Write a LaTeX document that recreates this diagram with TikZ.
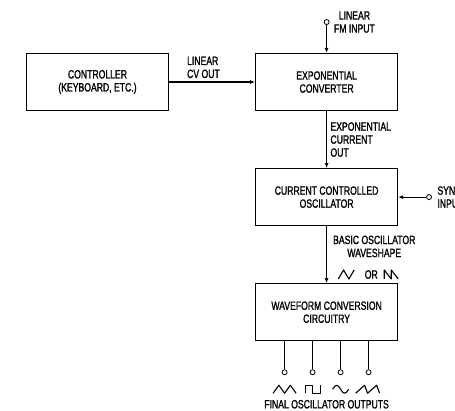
\documentclass[tikz,border=0pt]{standalone}
\usepackage{fontspec}
\setmainfont{Liberation Sans}[FakeStretch=0.72,FakeBold=1.2]
\usetikzlibrary{positioning,arrows.meta}
\newcommand{\diagfont}{\fontsize{12}{13}\selectfont}

\begin{document}
\begin{tikzpicture}[
        block/.style={
            rectangle, draw = black, line width = 1.1pt, minimum width = 142pt, minimum height = 57pt, align = center, font = \diagfont
        },
        sig/.style={
            font = \diagfont
        },
        jack/.style={
            circle, draw = black, line width = 0.8pt, fill = white, inner sep = 0pt, minimum size = 5pt
        },
        wave/.style={
            line width = 1.1pt, line join = round
        },
        every edge/.style={draw, line width = 1.1pt},
        >={Latex[length=5pt,width=4pt]},
    ]
        \useasboundingbox (0,0) rectangle (455pt,-411pt);

        \node (controller) [block] at (97.5pt,-82pt) {CONTROLLER\\(KEYBOARD, ETC.)};
        \node (expConverter) [block,right=86pt of controller] {EXPONENTIAL\\CONVERTER};
        \path (controller) edge[->] node[sig,align=left,pos=0.4,above] {LINEAR\\CV OUT} (expConverter);

        \node (fmJack) [jack,above=28pt of expConverter] {};
        \path (fmJack) edge[->] (expConverter);
        \node (fmLabel) [sig,align=center,right=1pt of fmJack] {LINEAR\\FM INPUT};

        \node (cco) [block,below=57pt of expConverter] {CURRENT CONTROLLED\\OSCILLATOR};
        \path (expConverter) edge[->] node[sig,align=left,pos=0.5,right] {EXPONENTIAL\\CURRENT\\OUT} (cco);

        \node (syncJack) [jack,right=28pt of cco] {};
        \path (syncJack) edge[->] (cco);
        \node (syncLabel) [sig,align=left,right=2pt of syncJack] {SYNC\\INPUT};

        \node (waveConversion) [block,below=57pt of cco] {WAVEFORM CONVERSION\\CIRCUITRY};
        \path (cco) edge[->] (waveConversion);
        \node (basicLabel) [sig,align=center,below right=6pt and 3pt of cco.south] {BASIC OSCILLATOR\\WAVESHAPE};
        \node (orText) [sig,below=6pt of basicLabel,xshift=-3pt] {OR};
        \draw[wave] ([xshift=-33pt,yshift=-4.5pt]orText.center) -- ++(5.3pt,9pt) -- ++(5.3pt,-9pt) -- ++(5.3pt,9pt);
        \draw[wave] ([xshift=13pt,yshift=-4.5pt]orText.center) -- ++(0,9pt) -- ++(7pt,-9pt) -- ++(0,9pt) -- ++(7pt,-9pt);

        % outputs
        \foreach \i/\dx in {1/-42,2/-14,3/14,4/42} {
            \node (out\i) [jack] at ([xshift=\dx pt,yshift=-31pt]waveConversion.south) {};
            \draw[line width=1.1pt] (waveConversion.south -| out\i) -- (out\i);
        }
        \draw[wave] ([xshift=-11.5pt,yshift=-21pt]out1.center) -- ++(5.75pt,8pt) -- ++(5.75pt,-8pt) -- ++(5.75pt,8pt) -- ++(5.75pt,-8pt);
        \draw[wave] ([xshift=-7.5pt,yshift=-21pt]out2.center) -- ++(0,8pt) -- ++(7.5pt,0) -- ++(0,-8pt) -- ++(7.5pt,0) -- ++(0,8pt);
        \draw[wave] ([xshift=-8pt,yshift=-17pt]out3.center) sin ++(4pt,4pt) cos ++(4pt,-4pt) sin ++(4pt,-4pt) cos ++(4pt,4pt);
        \draw[wave] ([xshift=-13pt,yshift=-21pt]out4.center) -- ++(9pt,8pt) -- ++(3pt,-8pt) -- ++(9pt,8pt) -- ++(3pt,-8pt);
        \node (finalLabel) [sig,inner sep=1pt] at ([yshift=-63pt]waveConversion.south) {FINAL OSCILLATOR OUTPUTS};

    \end{tikzpicture}
\end{document}
